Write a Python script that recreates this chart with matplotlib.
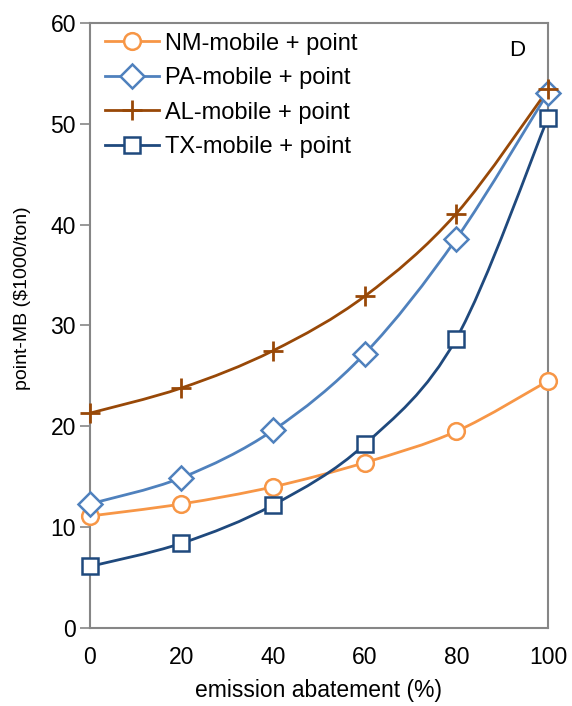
import matplotlib
matplotlib.use('Agg')
import matplotlib.pyplot as plt
from matplotlib.path import Path
from matplotlib.patches import PathPatch
import numpy as np

plt.rcParams['font.family'] = ['Liberation Sans', 'DejaVu Sans']

abatement = [0, 20, 40, 60, 80, 100]
nm = [11.1, 12.3, 14.0, 16.4, 19.5, 24.5]
pa = [12.3, 14.9, 19.6, 27.2, 38.6, 53.1]
al = [21.3, 23.8, 27.5, 32.9, 41.1, 53.4]
tx = [6.1, 8.4, 12.2, 18.2, 28.7, 50.6]

labels = ['NM-mobile + point', 'PA-mobile + point', 'AL-mobile + point', 'TX-mobile + point']
colors = ['#F79646', '#4F81BD', '#984807', '#1F497D']
markers = ['o', 'D', '+', 's']


def smooth_path(x, y):
    # Excel-style smoothed line: cubic bezier with catmull-rom control points
    p = np.column_stack([x, y]).astype(float)
    verts = [p[0]]
    codes = [Path.MOVETO]
    n = len(p)
    for i in range(n - 1):
        p0 = p[i - 1] if i > 0 else p[i]
        p3 = p[i + 2] if i + 2 < n else p[i + 1]
        c1 = p[i] + (p[i + 1] - p0) / 6
        c2 = p[i + 1] - (p3 - p[i]) / 6
        verts += [c1, c2, p[i + 1]]
        codes += [Path.CURVE4] * 3
    return Path(verts, codes)


fig = plt.figure(figsize=(5.72, 7.06), dpi=100)
ax = fig.add_axes([0.157, 0.1105, 0.801, 0.857])

for ys, lab, c, m in zip([nm, pa, al, tx], labels, colors, markers):
    ax.add_patch(PathPatch(smooth_path(abatement, ys), fill=False, edgecolor=c, lw=2.0,
                           zorder=2, clip_on=False))
    if m == '+':
        ax.plot(abatement, ys, linestyle='none', marker=m, markersize=14, mew=2.0,
                color=c, zorder=3, clip_on=False)
        ax.plot([], [], color=c, lw=2.0, marker=m, markersize=14, mew=2.0, label=lab)
    else:
        ms = 12
        ax.plot(abatement, ys, linestyle='none', marker=m, markersize=ms, mew=1.8,
                mfc='white', mec=c, zorder=3, clip_on=False)
        ax.plot([], [], color=c, lw=2.0, marker=m, markersize=ms, mew=1.8, mfc='white',
                mec=c, label=lab)

ax.set_xlim(0, 100)
ax.set_ylim(0, 60)
ax.set_xticks(abatement)
ax.set_yticks([0, 10, 20, 30, 40, 50, 60])
ax.tick_params(axis='x', length=0, labelsize=16.5, pad=13)
ax.tick_params(axis='y', length=7, width=1.2, color='#868686', labelsize=16.5, pad=3)
for s in ax.spines.values():
    s.set_color('#868686')
    s.set_linewidth(1.5)

ax.set_xlabel('emission abatement (%)', fontsize=16.5, labelpad=7)
ax.set_ylabel('point-MB ($1000/ton)', fontsize=14)
ax.yaxis.set_label_coords(-0.128, 0.545)

ax.text(0.932, 0.955, 'D', transform=ax.transAxes, fontsize=16, ha='center', va='center')

ax.legend(loc='upper left', frameon=False, fontsize=17, handlelength=2.3,
          labelspacing=0.53, borderaxespad=0.0, handletextpad=0.25,
          borderpad=0.2, bbox_to_anchor=(0.023, 0.992))

fig.savefig('out.png', dpi=100)
